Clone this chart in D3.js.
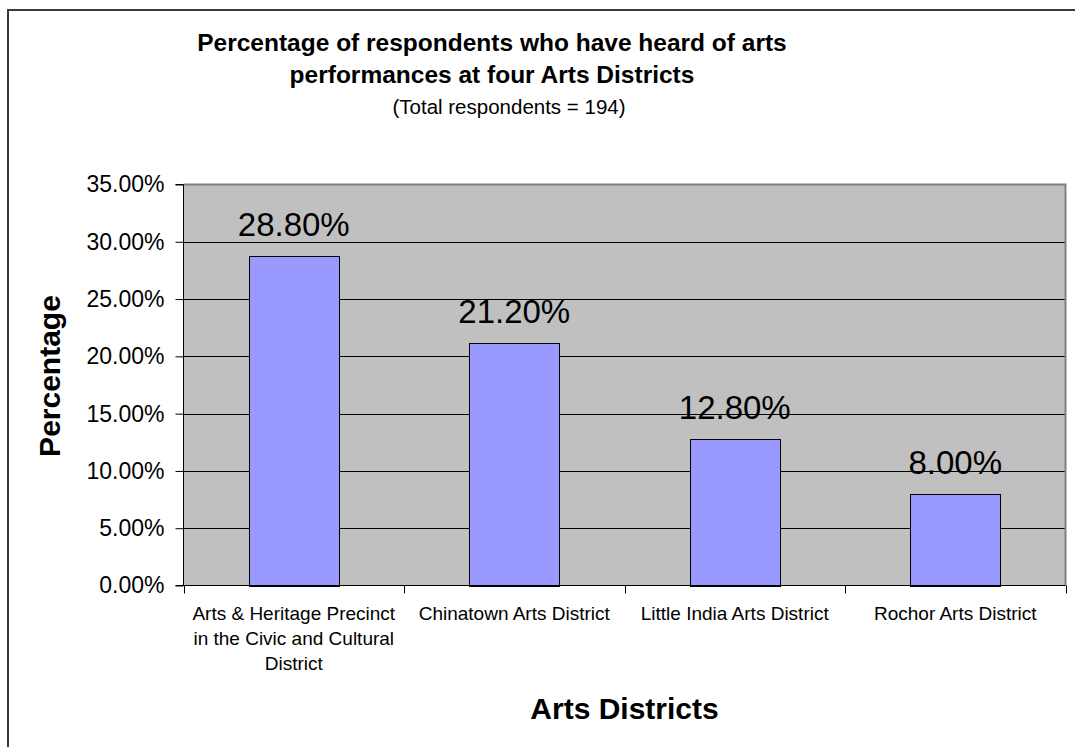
<!DOCTYPE html>
<html>
<head>
<meta charset="utf-8">
<script src="https://cdn.jsdelivr.net/npm/d3@7/dist/d3.min.js"></script>
<style>
  html, body { margin: 0; padding: 0; background: #ffffff; }
  svg { display: block; font-family: Arial, "Liberation Sans", sans-serif; }
</style>
</head>
<body>
<svg id="chart" width="1075" height="747"></svg>
<script>
// Survey result: share of respondents aware of arts performances per district
const categories = [
  "Arts & Heritage Precinct in the Civic and Cultural District",
  "Chinatown Arts District",
  "Little India Arts District",
  "Rochor Arts District"
];
const values = [0.288, 0.212, 0.128, 0.08];
const yTicks = [0, 0.05, 0.10, 0.15, 0.20, 0.25, 0.30, 0.35];
const titleLines = [
  "Percentage of respondents who have heard of arts",
  "performances at four Arts Districts"
];
const subtitle = "(Total respondents = 194)";
const xTitle = "Arts Districts";
const yTitle = "Percentage";

const svg = d3.select("#chart");
const plot = { left: 183.5, right: 1065.5, top: 184.5, bottom: 585.5 };

// Outer chart frame (extends beyond the visible canvas on the right and bottom)
svg.append("rect")
  .attr("x", 8).attr("y", 10)
  .attr("width", 1200).attr("height", 900)
  .attr("fill", "#ffffff")
  .attr("stroke", "#3a3a3a").attr("stroke-width", 2);

const x = d3.scaleBand()
  .domain(categories)
  .range([plot.left, plot.right])
  .paddingInner(0.594)
  .paddingOuter(0.297);

const xCat = d3.scaleBand()
  .domain(categories)
  .range([plot.left, plot.right])
  .padding(0);

const y = d3.scaleLinear()
  .domain([0, 0.35])
  .range([plot.bottom, plot.top]);

// Plot background
svg.append("rect")
  .attr("x", plot.left).attr("y", plot.top)
  .attr("width", plot.right - plot.left)
  .attr("height", plot.bottom - plot.top)
  .attr("fill", "#c0c0c0");

// Gridlines
svg.append("g")
  .selectAll("line")
  .data(yTicks.filter(t => t > 0 && t < 0.35))
  .join("line")
  .attr("x1", plot.left).attr("x2", plot.right)
  .attr("y1", d => Math.round(y(d)) + 0.5)
  .attr("y2", d => Math.round(y(d)) + 0.5)
  .attr("stroke", "#000000").attr("stroke-width", 1);

// Plot border (top and right in grey)
svg.append("path")
  .attr("d", `M${plot.left},${plot.top}H${plot.right}V${plot.bottom}`)
  .attr("fill", "none")
  .attr("stroke", "#808080").attr("stroke-width", 2);

// Bars
svg.append("g")
  .selectAll("rect")
  .data(categories)
  .join("rect")
  .attr("x", d => Math.round(x(d)) + 0.5)
  .attr("y", (d, i) => Math.round(y(values[i])) + 0.5)
  .attr("width", Math.round(x.bandwidth()))
  .attr("height", (d, i) => Math.round(y(0)) - Math.round(y(values[i])))
  .attr("fill", "#9999ff")
  .attr("stroke", "#000000").attr("stroke-width", 1);

// Value labels
svg.append("g")
  .selectAll("text")
  .data(categories)
  .join("text")
  .attr("x", d => x(d) + x.bandwidth() / 2)
  .attr("y", (d, i) => y(values[i]) - 20)
  .attr("text-anchor", "middle")
  .attr("font-size", "33px")
  .attr("fill", "#000000")
  .text((d, i) => d3.format(".2%")(values[i]));

// Y axis
const yAxis = d3.axisLeft(y)
  .tickValues(yTicks)
  .tickSize(8)
  .tickPadding(11)
  .tickFormat(d3.format(".2%"));

const gy = svg.append("g")
  .attr("transform", `translate(${plot.left},0)`)
  .call(yAxis);
gy.select(".domain").attr("stroke", "#000000").attr("d", `M-8,${plot.top}H0V${plot.bottom}`);
gy.selectAll(".tick line").attr("stroke", "#000000");
gy.selectAll(".tick text")
  .attr("font-size", "23px")
  .attr("font-family", "Arial, 'Liberation Sans', sans-serif")
  .attr("fill", "#000000");

// X axis baseline and category separator ticks
const gx = svg.append("g");
gx.append("line")
  .attr("x1", plot.left - 8).attr("x2", plot.right)
  .attr("y1", plot.bottom).attr("y2", plot.bottom)
  .attr("stroke", "#000000");
const sepPositions = categories.map(c => xCat(c)).concat([plot.right]);
gx.selectAll("line.sep")
  .data(sepPositions)
  .join("line")
  .attr("class", "sep")
  .attr("x1", d => Math.round(d) + 0.5).attr("x2", d => Math.round(d) + 0.5)
  .attr("y1", plot.bottom).attr("y2", plot.bottom + 8)
  .attr("stroke", "#000000");

// Category labels, wrapped to the category width
const catLabels = gx.selectAll("text.cat")
  .data(categories)
  .join("text")
  .attr("class", "cat")
  .attr("text-anchor", "middle")
  .attr("font-size", "19px")
  .attr("fill", "#000000")
  .attr("x", d => xCat(d) + xCat.bandwidth() / 2)
  .attr("y", plot.bottom + 34);

catLabels.each(function(d) {
  const t = d3.select(this);
  const cx = +t.attr("x");
  const words = d.split(" ");
  const maxW = xCat.bandwidth() - 8;
  let line = [];
  let tspan = t.append("tspan").attr("x", cx).attr("dy", 0);
  words.forEach(w => {
    line.push(w);
    tspan.text(line.join(" "));
    if (tspan.node().getComputedTextLength() > maxW && line.length > 1) {
      line.pop();
      tspan.text(line.join(" "));
      line = [w];
      tspan = t.append("tspan").attr("x", cx).attr("dy", 25).text(w);
    }
  });
});

// Axis titles
svg.append("text")
  .attr("x", (plot.left + plot.right) / 2)
  .attr("y", 719)
  .attr("text-anchor", "middle")
  .attr("font-size", "30px")
  .attr("font-weight", "bold")
  .text(xTitle);

svg.append("text")
  .attr("transform", `translate(60,${376}) rotate(-90)`)
  .attr("text-anchor", "middle")
  .attr("font-size", "30px")
  .attr("font-weight", "bold")
  .text(yTitle);

// Chart title
const titleX = 492;
svg.append("g")
  .selectAll("text")
  .data(titleLines)
  .join("text")
  .attr("x", titleX)
  .attr("y", (d, i) => 51 + i * 32)
  .attr("text-anchor", "middle")
  .attr("font-size", "24.5px")
  .attr("font-weight", "bold")
  .text(d => d);

svg.append("text")
  .attr("x", 509)
  .attr("y", 114)
  .attr("text-anchor", "middle")
  .attr("font-size", "20.5px")
  .text(subtitle);
</script>
</body>
</html>
